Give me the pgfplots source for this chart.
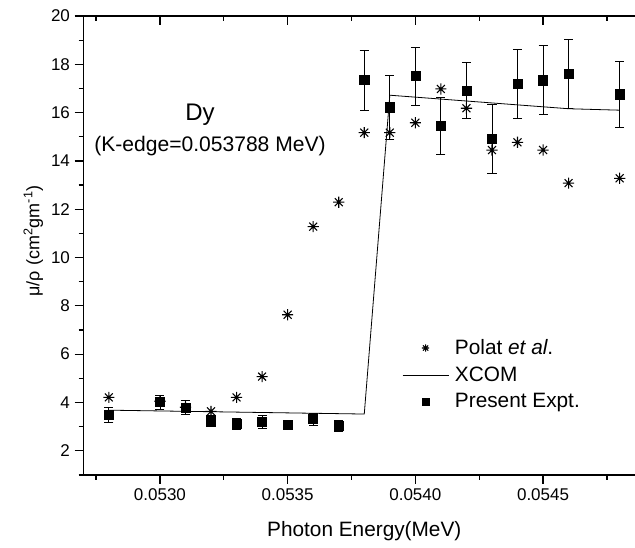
\documentclass[border=0pt]{standalone}
\usepackage{fontspec}
\setmainfont{Liberation Sans}
\usepackage{graphicx}
\usepackage{pgfplots}
\usepackage{pgfplotstable}
\pgfplotsset{compat=1.18}

\pgfdeclareplotmark{ast8}{%
  \pgfpathmoveto{\pgfqpoint{0pt}{\pgfplotmarksize}}\pgfpathlineto{\pgfqpoint{0pt}{-\pgfplotmarksize}}%
  \pgfpathmoveto{\pgfqpoint{\pgfplotmarksize}{0pt}}\pgfpathlineto{\pgfqpoint{-\pgfplotmarksize}{0pt}}%
  \pgfpathmoveto{\pgfqpoint{0.7071\pgfplotmarksize}{0.7071\pgfplotmarksize}}\pgfpathlineto{\pgfqpoint{-0.7071\pgfplotmarksize}{-0.7071\pgfplotmarksize}}%
  \pgfpathmoveto{\pgfqpoint{0.7071\pgfplotmarksize}{-0.7071\pgfplotmarksize}}\pgfpathlineto{\pgfqpoint{-0.7071\pgfplotmarksize}{0.7071\pgfplotmarksize}}%
  \pgfusepathqstroke}

\pgfplotsset{
  markleg/.style={legend image code/.code={\draw[##1, mark size=2.75pt] plot coordinates {(17.25pt,0pt)};}},
  lineleg/.style={legend image code/.code={\draw[##1] (0pt,0pt) -- (34.5pt,0pt);}},
}
\newcommand{\tl}[1]{\scalebox{1.275}{#1}}

\pgfplotstableread{
x y err
0.0528 3.48 0.30
0.0530 4.01 0.28
0.0531 3.79 0.30
0.0532 3.24 0.24
0.0533 3.10 0.22
0.0534 3.19 0.26
0.0535 3.06 0.15
0.0536 3.31 0.25
0.0537 3.03 0.24
0.0538 17.35 1.24
0.0539 16.22 1.31
0.0540 17.51 1.20
0.0541 15.45 1.18
0.0542 16.92 1.14
0.0543 14.91 1.42
0.0544 17.18 1.42
0.0545 17.34 1.43
0.0546 17.59 1.43
0.0548 16.76 1.38
}\present

\pgfplotstableread{
x y
0.0528 4.21
0.0530 4.05
0.0531 3.80
0.0532 3.63
0.0533 4.21
0.0534 5.07
0.0535 7.63
0.0536 11.28
0.0537 12.29
0.0538 15.17
0.0539 15.17
0.0540 15.58
0.0541 16.98
0.0542 16.18
0.0543 14.45
0.0544 14.77
0.0545 14.45
0.0546 13.08
0.0548 13.28
}\polat

\pgfplotstableread{
x y
0.0528 3.68
0.0538 3.52
0.0539 16.72
0.0546 16.16
0.0548 16.10
}\xcom

\begin{document}
\begin{tikzpicture}
\pgfplotsset{
  common/.style={
    scale only axis, width=421.5pt, height=344.25pt,
    xmin=0.0527, xmax=0.0549, ymin=1, ymax=20,
    xtick={0.053,0.0535,0.054,0.0545},
    minor xtick={0.05275,0.05325,0.05375,0.05425,0.05475},
    axis line style={line width=0.9pt},
    tick style={line width=0.9pt, black},
    scaled x ticks=false,
  }
}
\begin{axis}[
  common,
  axis x line*=bottom, axis y line*=left,
  tick align=outside,
  ytick={2,4,...,20}, minor ytick={1,3,...,19},
  major tick length=6.5pt, minor tick length=3.5pt,
  xticklabels={\tl{0.0530},\tl{0.0535},\tl{0.0540},\tl{0.0545}},
  yticklabels={\tl{2},\tl{4},\tl{6},\tl{8},\tl{10},\tl{12},\tl{14},\tl{16},\tl{18},\tl{20}},
  xlabel={Photon Energy(MeV)},
  xlabel style={at={([yshift=-46.3pt]rel axis cs:0.5,0)}, anchor=base, font=\fontsize{15.6}{18}\selectfont},
  ylabel={μ/ρ (cm\textsuperscript{2}gm\textsuperscript{-1})},
  ylabel style={at={([xshift=-37.5pt]rel axis cs:0,0.51)}, anchor=center, font=\fontsize{13.5}{16}\selectfont},
  legend cell align=left,
  legend style={draw=none, fill=none, at={(rel axis cs:0.567,0.30)}, anchor=north west,
    font=\fontsize{15.6}{18.5}\selectfont, row sep=4.6pt, column sep=3pt, inner sep=0pt, nodes={inner sep=1.5pt}},
]
\addplot[only marks, mark=ast8, mark size=4.2pt, line width=0.8pt, black, markleg]
  table[x=x, y=y] {\polat};
\addlegendentry{Polat \textit{et al}.}
\addplot[black, line width=0.6pt, no marks, lineleg]
  table[x=x, y=y] {\xcom};
\addlegendentry{XCOM}
\addplot[only marks, mark=square*, mark size=3.4pt, black, markleg,
  error bars/.cd, y dir=both, y explicit,
  error bar style={line width=0.6pt, black},
  error mark options={rotate=90, mark size=3.4pt, line width=0.6pt, black},
  ]
  table[x=x, y=y, y error=err] {\present};
\addlegendentry{Present Expt.}
\node[font=\fontsize{18}{20}\selectfont] at (axis cs:0.053157,15.9) {Dy};
\node[font=\fontsize{15.8}{18}\selectfont] at (axis cs:0.053196,14.63) {(K-edge=0.053788 MeV)};
\coordinate (BL) at (rel axis cs:0,0);
\coordinate (TR) at (axis cs:0.05486,20);
\end{axis}
\begin{axis}[
  common,
  axis x line*=top, axis y line=none,
  xticklabels={},
  tick align=inside,
  major tick length=6.75pt, minor tick length=3.75pt,
]
\end{axis}
\pgfresetboundingbox
\path ([xshift=-62.5pt,yshift=-54.75pt]BL) rectangle ([yshift=12pt]TR);
\end{tikzpicture}
\end{document}
